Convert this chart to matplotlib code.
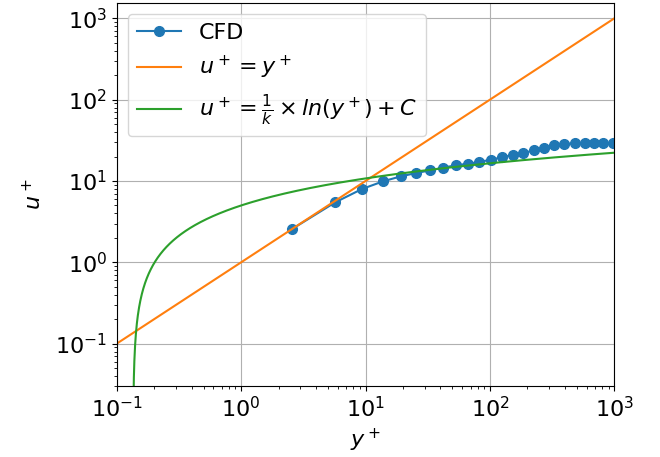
import numpy as np
import matplotlib
matplotlib.use("Agg")
import matplotlib.pyplot as plt

# CFD data
yplus_cfd = [2.55, 5.69, 9.37, 13.8, 19.2, 25.3, 33.0, 42.2, 53.1, 66.7, 82.2,
             101.5, 124.4, 152.5, 185.6, 226, 273.7, 329.6, 396.5, 480.5, 578,
             690, 816, 971]
uplus_cfd = [2.55, 5.45, 7.97, 9.89, 11.4, 12.5, 13.5, 14.6, 15.6, 16.3, 17.1,
             18.3, 19.5, 20.9, 22.1, 23.8, 25.5, 27.4, 28.5, 29.0, 29.3,
             29.3, 29.3, 29.3]

# law-of-the-wall constants
kappa = 0.4
C = 5.0
yplus_min, yplus_max = 0.1, 1000

yp = np.logspace(np.log10(yplus_min), np.log10(yplus_max), 2000)
u_lin = yp
u_log = 1.0 / kappa * np.log(yp) + C
u_log = np.where(u_log > 0, u_log, np.nan)

fig = plt.figure(figsize=(6.6, 4.57), dpi=100)
ax = fig.add_axes([0.1768, 0.1547, 0.754, 0.8387])

ax.plot(yplus_cfd, uplus_cfd, '-o', color='#1f77b4', markersize=7, label='CFD')
ax.plot(yp, u_lin, color='#ff7f0e', label=r'$u^+ = y^+$')
ax.plot(yp, u_log, color='#2ca02c', label=r'$u^+ = \frac{1}{k} \times ln(y^+) + C$')

ax.set_xscale('log')
ax.set_yscale('log')
ax.set_xlim(0.1, 1000)
ax.set_ylim(0.0299, 1543)
ax.grid(True, which='major', color='#b0b0b0', linewidth=0.8)
ax.set_xlabel(r'$y^+$', fontsize=16)
ax.set_ylabel(r'$u^+$', fontsize=16, labelpad=7)
ax.tick_params(axis='both', which='major', labelsize=16)
ax.legend(loc='upper left', fontsize=16)

fig.savefig('out.png', dpi=100)
